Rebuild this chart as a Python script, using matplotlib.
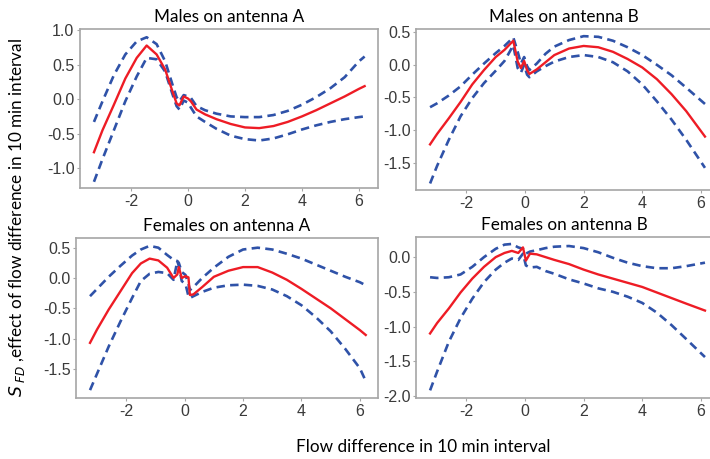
import matplotlib
matplotlib.use("Agg")
import matplotlib.pyplot as plt

# ---------------- data ----------------
titles = ["Males on antenna A", "Males on antenna B",
          "Females on antenna A", "Females on antenna B"]

x_ma = [-3.3, -3.0, -2.6, -2.2, -1.8, -1.45, -1.1, -0.8, -0.55, -0.4, -0.3, -0.15,
        0.0, 0.1, 0.3, 0.6, 1.0, 1.5, 2.0, 2.5, 3.0, 3.5, 4.0, 4.5, 5.0, 5.5, 6.0, 6.2]
fit_ma = [-0.77, -0.45, -0.08, 0.30, 0.60, 0.78, 0.65, 0.43, 0.12, -0.06, -0.09, 0.04,
          0.01, -0.03, -0.15, -0.22, -0.29, -0.36, -0.41, -0.42, -0.39, -0.33, -0.25,
          -0.16, -0.06, 0.04, 0.15, 0.19]
up_ma = [-0.33, -0.03, 0.35, 0.65, 0.84, 0.90, 0.80, 0.55, 0.22, 0.03, -0.03, 0.06,
         0.04, 0.02, -0.10, -0.16, -0.21, -0.25, -0.26, -0.26, -0.23, -0.17, -0.08,
         0.03, 0.16, 0.32, 0.55, 0.62]
lo_ma = [-1.20, -0.87, -0.45, -0.03, 0.33, 0.60, 0.58, 0.40, 0.08, -0.10, -0.15, -0.02,
         -0.05, -0.12, -0.25, -0.33, -0.43, -0.53, -0.58, -0.60, -0.57, -0.51, -0.44,
         -0.38, -0.33, -0.29, -0.26, -0.25]

x_mb = [-3.24, -3.0, -2.6, -2.2, -1.8, -1.4, -1.0, -0.7, -0.4, -0.25, -0.14, -0.03,
        0.07, 0.15, 0.4, 0.7, 1.0, 1.5, 2.0, 2.5, 3.0, 3.5, 4.0, 4.5, 5.0, 5.5, 6.14]
fit_mb = [-1.22, -1.06, -0.82, -0.57, -0.30, -0.08, 0.12, 0.23, 0.37, 0.05, -0.05, 0.06,
          -0.08, -0.14, -0.07, 0.04, 0.15, 0.25, 0.29, 0.27, 0.20, 0.09, -0.04, -0.22,
          -0.45, -0.71, -1.10]
up_mb = [-0.65, -0.59, -0.47, -0.33, -0.15, 0.02, 0.18, 0.29, 0.42, 0.20, 0.02, 0.12,
         -0.02, -0.08, 0.02, 0.17, 0.28, 0.38, 0.44, 0.43, 0.37, 0.27, 0.15, 0.00,
         -0.16, -0.35, -0.60]
lo_mb = [-1.82, -1.55, -1.15, -0.79, -0.51, -0.28, -0.09, 0.06, 0.30, -0.05, -0.12, 0.00,
         -0.15, -0.19, -0.10, -0.02, 0.05, 0.12, 0.15, 0.12, 0.04, -0.10, -0.30, -0.56,
         -0.84, -1.15, -1.58]

x_fa = [-3.24, -3.0, -2.6, -2.2, -1.8, -1.5, -1.2, -0.9, -0.6, -0.38, -0.25, -0.2, -0.1,
        0.03, 0.13, 0.18, 0.3, 0.6, 1.0, 1.5, 2.0, 2.5, 3.0, 3.5, 4.0, 4.5, 5.0, 5.5,
        6.0, 6.2]
fit_fa = [-1.07, -0.85, -0.52, -0.22, 0.08, 0.24, 0.32, 0.29, 0.17, 0.00, 0.06, 0.18,
          0.00, 0.03, 0.01, -0.28, -0.27, -0.15, 0.02, 0.12, 0.18, 0.18, 0.09, -0.03,
          -0.18, -0.34, -0.50, -0.68, -0.86, -0.94]
up_fa = [-0.30, -0.18, 0.02, 0.20, 0.37, 0.47, 0.53, 0.50, 0.38, 0.30, 0.28, 0.25,
         0.10, 0.05, -0.10, -0.20, -0.15, 0.00, 0.17, 0.35, 0.47, 0.50, 0.47, 0.40,
         0.32, 0.22, 0.12, 0.02, -0.07, -0.12]
lo_fa = [-1.85, -1.58, -1.13, -0.72, -0.33, -0.05, 0.07, 0.10, 0.08, -0.03, 0.28, 0.20,
         -0.05, -0.10, -0.30, -0.33, -0.30, -0.23, -0.16, -0.12, -0.11, -0.13, -0.19,
         -0.30, -0.45, -0.65, -0.88, -1.17, -1.49, -1.70]

x_fb = [-3.24, -3.0, -2.6, -2.2, -1.8, -1.4, -1.0, -0.7, -0.45, -0.23, -0.07, 0.03,
        0.17, 0.4, 0.7, 1.0, 1.5, 2.0, 2.5, 3.0, 3.5, 4.0, 4.5, 5.0, 5.5, 6.14]
fit_fb = [-1.10, -0.95, -0.74, -0.51, -0.31, -0.14, 0.00, 0.06, 0.09, 0.06, 0.14, -0.05,
          0.05, 0.04, 0.00, -0.04, -0.10, -0.18, -0.25, -0.31, -0.37, -0.43, -0.51,
          -0.59, -0.67, -0.77]
up_fb = [-0.29, -0.30, -0.29, -0.25, -0.14, 0.00, 0.12, 0.18, 0.19, 0.14, 0.12, 0.05,
         0.08, 0.10, 0.13, 0.15, 0.16, 0.13, 0.07, -0.01, -0.08, -0.13, -0.16, -0.16,
         -0.13, -0.08]
lo_fb = [-1.92, -1.65, -1.22, -0.88, -0.60, -0.36, -0.18, -0.08, -0.02, -0.04, 0.05,
         -0.12, -0.15, -0.14, -0.20, -0.24, -0.32, -0.38, -0.45, -0.50, -0.57, -0.66,
         -0.80, -0.98, -1.18, -1.44]

xticks = [-2, 0, 2, 4, 6]
yticks_ma = [-1.0, -0.5, 0.0, 0.5, 1.0]
yticks_mb = [-1.5, -1.0, -0.5, 0.0, 0.5]
yticks_fa = [-1.5, -1.0, -0.5, 0.0, 0.5]
yticks_fb = [-2.0, -1.5, -1.0, -0.5, 0.0]

panels = [
    (x_ma, fit_ma, up_ma, lo_ma, yticks_ma),
    (x_mb, fit_mb, up_mb, lo_mb, yticks_mb),
    (x_fa, fit_fa, up_fa, lo_fa, yticks_fa),
    (x_fb, fit_fb, up_fb, lo_fb, yticks_fb),
]

# ---------------- layout (pixels) ----------------
W, H = 710, 459
rects_px = [(80, 378, 29, 188), (416, 712, 29, 190),
            (76, 378, 238, 398), (416, 712, 237, 398)]
xlims = [(-3.79, 6.67), (-3.72, 6.38), (-3.72, 6.62), (-3.72, 6.38)]
ylims = [(-1.29, 1.02), (-1.92, 0.55), (-1.98, 0.66), (-2.03, 0.29)]

RED = "#EE1C25"
BLUE = "#2F52A8"
SPINE = "#A6A6A6"
TICKC = "#3A3A3A"
TITLE_FONT = "Lato"

fig = plt.figure(figsize=(W / 100, H / 100), dpi=100)

for i, (xs, fit, up, lo, yt) in enumerate(panels):
    l, r, t, b = rects_px[i]
    ax = fig.add_axes([l / W, 1 - b / H, (r - l) / W, (b - t) / H])
    ax.plot(xs, up, color=BLUE, lw=1.9, dashes=(3.2, 2.0))
    ax.plot(xs, lo, color=BLUE, lw=1.9, dashes=(3.2, 2.0))
    ax.plot(xs, fit, color=RED, lw=1.7)
    ax.set_xlim(*xlims[i])
    ax.set_ylim(*ylims[i])
    ax.set_xticks(xticks)
    ax.set_xticklabels([str(v) for v in xticks])
    ax.set_yticks(yt)
    ax.set_yticklabels([f"{v:.1f}" for v in yt])
    for s in ax.spines.values():
        s.set_color(SPINE)
        s.set_linewidth(1.2)
    ax.tick_params(colors=SPINE, labelcolor=TICKC, labelsize=11.5, length=2,
                   width=0.8, pad=2)
    for lab in ax.get_xticklabels() + ax.get_yticklabels():
        lab.set_fontfamily("Liberation Sans")
    ax.set_title(titles[i], fontsize=12.3, family=TITLE_FONT, pad=5, color="black")

fig.text(17 / W, 1 - 218 / H,
         r"$S_{\ FD}$ ,effect of flow difference in 10 min interval",
         rotation=90, ha="center", va="center", fontsize=12.3, family=TITLE_FONT)
fig.text(423 / W, 1 - 447 / H, "Flow difference in 10 min interval",
         ha="center", va="center", fontsize=12.3, family=TITLE_FONT)

fig.savefig("out.png", dpi=100, facecolor="white")
